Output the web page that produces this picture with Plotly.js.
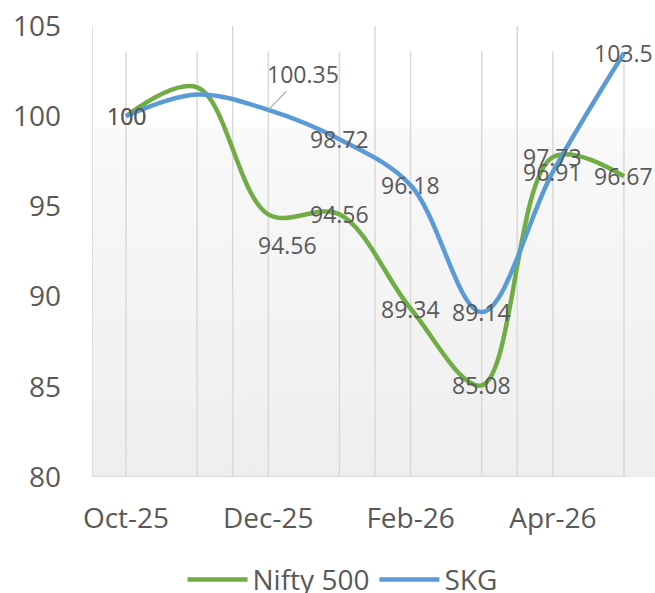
<!DOCTYPE html>
<html>
<head>
<meta charset="utf-8">
<script src="https://cdn.plot.ly/plotly-3.0.1.min.js"></script>
<style>html,body{margin:0;padding:0;background:#fff;}#chart{width:655px;height:593px;}</style>
</head>
<body>
<div id="chart"></div>
<script>
// ---- data ----
const months = ['Oct-25','Nov-25','Dec-25','Jan-26','Feb-26','Mar-26','Apr-26','May-26'];
const niftyValues = [100, 101.6, 94.56, 94.56, 89.34, 85.08, 97.73, 96.67];
const skgValues   = [100, 101.2, 100.35, 98.72, 96.18, 89.14, 96.91, 103.5];
const niftyLabels = ['100', '', '94.56', '94.56', '89.34', '85.08', '97.73', '96.67'];
const skgLabels   = ['100', '', '100.35', '98.72', '96.18', '89.14', '96.91', '103.5'];
const xTickIdx    = [0, 2, 4, 6];
const xTickText   = ['Oct-25', 'Dec-25', 'Feb-26', 'Apr-26'];
const yTicks      = [80, 85, 90, 95, 100, 105];

const GREEN = '#70ad47', BLUE = '#5b9bd5', TXT = '#595959', GRID = '#d9d9d9';
const FONT = 'Open Sans, sans-serif';
const xIdx = months.map((m, i) => i);

const traces = [
  {x: xIdx, y: niftyValues, name: 'Nifty 500', type: 'scatter', mode: 'lines',
   line: {color: GREEN, width: 4.5, shape: 'spline', smoothing: 1}, hoverinfo: 'skip'},
  {x: xIdx, y: skgValues, name: 'SKG', type: 'scatter', mode: 'lines',
   line: {color: BLUE, width: 4.5, shape: 'spline', smoothing: 1}, hoverinfo: 'skip'}
];

// label annotations (centered on points; Dec labels offset like the original)
const annotations = [];
function addLabels(vals, labels, special) {
  vals.forEach((v, i) => {
    if (!labels[i]) return;
    const a = {x: i, y: v, xref: 'x', yref: 'y', text: labels[i], showarrow: false,
      font: {family: FONT, size: 23, color: TXT}};
    if (special[i]) Object.assign(a, special[i]);
    annotations.push(a);
  });
}
addLabels(niftyValues, niftyLabels, {2: {xshift: 19, yshift: -31}});
addLabels(skgValues, skgLabels, {2: {showarrow: true, arrowhead: 0, arrowwidth: 1.2,
  arrowcolor: '#a6a6a6', ax: 35, ay: -36, standoff: 0}});

// gridlines
const shapes = [];
[-0.478, 1.5, 3.5, 5.5].forEach(x => shapes.push({type: 'line', layer: 'below', xref: 'x', yref: 'y',
  x0: x, x1: x, y0: 80, y1: 105, line: {color: GRID, width: 1.5}}));
xIdx.forEach(x => shapes.push({type: 'line', layer: 'below', xref: 'x', yref: 'y',
  x0: x, x1: x, y0: 80, y1: 103.6, line: {color: GRID, width: 1.5}}));
shapes.push({type: 'line', layer: 'below', xref: 'x', yref: 'y', x0: -0.478, x1: 7.03, y0: 80, y1: 80,
  line: {color: GRID, width: 2}});

const svg = "<svg xmlns='http://www.w3.org/2000/svg' width='10' height='100' viewBox='0 0 10 100' preserveAspectRatio='none'>" +
  "<defs><linearGradient id='g' x1='0' y1='0' x2='0' y2='1'>" +
  "<stop offset='0' stop-color='#ffffff'/><stop offset='0.222' stop-color='#ffffff'/>" +
  "<stop offset='0.232' stop-color='#f9f9f9'/><stop offset='1' stop-color='#eeeeee'/>" +
  "</linearGradient></defs><rect x='0' y='0' width='10' height='100' fill='url(#g)'/></svg>";
const bgImg = 'data:image/svg+xml;charset=utf-8,' + encodeURIComponent(svg);

const layout = {
  width: 655, height: 593,
  margin: {l: 92, r: 0, t: 26, b: 116, autoexpand: false},
  paper_bgcolor: '#ffffff', plot_bgcolor: 'rgba(0,0,0,0)',
  font: {family: FONT, color: TXT},
  showlegend: true,
  legend: {orientation: 'h', x: 0.445, xanchor: 'center', y: -0.228, yanchor: 'middle',
    font: {family: FONT, size: 28, color: TXT}, itemwidth: 60, tracegroupgap: 0},
  xaxis: {range: [-0.478, 7.436], tickvals: xTickIdx, ticktext: xTickText, showgrid: false,
    zeroline: false, showline: false, ticks: '', ticklabelstandoff: 22, automargin: false,
    tickfont: {family: FONT, size: 28, color: TXT}, fixedrange: true},
  yaxis: {range: [80, 105], tickvals: yTicks, showgrid: false, zeroline: false, showline: false,
    ticks: '', ticklabelstandoff: 30, automargin: false, tickfont: {family: FONT, size: 28, color: TXT}, fixedrange: true},
  shapes: shapes,
  annotations: annotations,
  images: [{source: bgImg, xref: 'paper', yref: 'paper', x: 0, y: 1, sizex: 1, sizey: 1,
    sizing: 'stretch', xanchor: 'left', yanchor: 'top', layer: 'below'}]
};

Plotly.newPlot('chart', traces, layout, {staticPlot: true, displayModeBar: false});
</script>
</body>
</html>
